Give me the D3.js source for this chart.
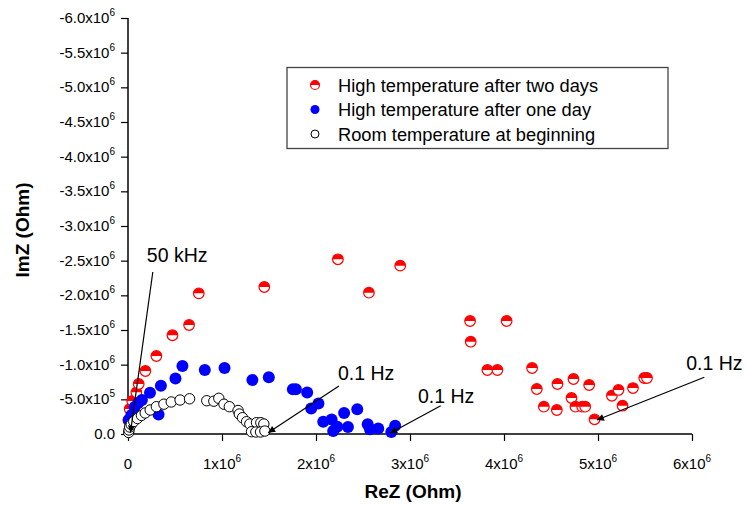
<!DOCTYPE html>
<html>
<head>
<meta charset="utf-8">
<script src="https://cdn.jsdelivr.net/npm/d3@7"></script>
<style>
  body { margin: 0; background: #fff; }
  svg text { font-family: "Liberation Sans", Arial, sans-serif; fill: #000; }
</style>
</head>
<body>
<svg id="chart" width="746" height="506"></svg>
<script>
// ---- data (ReZ in Ohm, ImZ in Ohm; ImZ negative) ----
const twoDaysRe = [0.005, 0.018, 0.045, 0.089, 0.114, 0.185, 0.302, 0.473, 0.650, 0.753, 1.450, 2.233, 2.563, 2.896,
  3.639, 4.028, 3.646, 3.823, 3.930, 4.299, 4.349, 4.424, 4.562, 4.569, 4.739, 4.718, 4.760, 4.832, 4.864, 4.906,
  4.963, 5.148, 5.218, 5.261, 5.372, 5.492, 5.521];
const twoDaysIm = [0.20, 0.36, 0.476, 0.601, 0.721, 0.909, 1.125, 1.424, 1.572, 2.029, 2.120, 2.520, 2.038, 2.428,
  1.630, 1.630, 1.331, 0.923, 0.923, 0.952, 0.649, 0.394, 0.346, 0.721, 0.793, 0.519, 0.394, 0.394, 0.394, 0.707,
  0.212, 0.552, 0.635, 0.408, 0.663, 0.808, 0.808];

const oneDayRe = [0.007, 0.036, 0.071, 0.109, 0.148, 0.234, 0.350, 0.325, 0.505, 0.579, 0.817, 1.027, 1.323, 1.498,
  1.754, 1.786, 1.906, 2.026, 1.949, 2.077, 2.166, 2.299, 2.439, 2.226, 2.183, 2.340, 2.550, 2.574, 2.662, 2.842, 2.801];
const oneDayIm = [0.202, 0.274, 0.389, 0.447, 0.490, 0.596, 0.695, 0.280, 0.801, 0.981, 0.923, 0.952, 0.779, 0.818,
  0.646, 0.646, 0.599, 0.440, 0.368, 0.177, 0.209, 0.303, 0.356, 0.105, 0.043, 0.101, 0.141, 0.068, 0.078, 0.120, 0.029];

const roomRe = [0.007, 0.011, 0.018, 0.034, 0.061, 0.100, 0.143, 0.183, 0.236, 0.302, 0.382, 0.460, 0.554, 0.655,
  0.838, 0.913, 0.966, 1.021, 1.078, 1.171, 1.184, 1.218, 1.261, 1.296, 1.367, 1.413, 1.445, 1.314, 1.360, 1.410, 1.456];
const roomIm = [0.022, 0.058, 0.101, 0.137, 0.180, 0.224, 0.267, 0.303, 0.346, 0.394, 0.430, 0.462, 0.490, 0.508,
  0.480, 0.473, 0.515, 0.430, 0.394, 0.339, 0.288, 0.235, 0.177, 0.144, 0.163, 0.163, 0.144, 0.033, 0.029, 0.029, 0.043];

const seriesNames = ["High temperature after two days", "High temperature after one day", "Room temperature at beginning"];

// tick labels
const xTickValues = [0, 1e6, 2e6, 3e6, 4e6, 5e6, 6e6];
const xTickMantissa = ["0", "1x10", "2x10", "3x10", "4x10", "5x10", "6x10"];
const xTickExponent = ["", "6", "6", "6", "6", "6", "6"];
const yTickValues = [0, -0.5e6, -1e6, -1.5e6, -2e6, -2.5e6, -3e6, -3.5e6, -4e6, -4.5e6, -5e6, -5.5e6, -6e6];
const yTickMantissa = ["0.0", "-5.0x10", "-1.0x10", "-1.5x10", "-2.0x10", "-2.5x10", "-3.0x10", "-3.5x10",
  "-4.0x10", "-4.5x10", "-5.0x10", "-5.5x10", "-6.0x10"];
const yTickExponent = ["", "5", "6", "6", "6", "6", "6", "6", "6", "6", "6", "6", "6"];

// annotations: label position and arrow from/to (data units, 1e6 Ohm)
const annoLabels = ["50 kHz", "0.1 Hz", "0.1 Hz", "0.1 Hz"];
const annoText = [[0.20, -2.48], [2.233, -0.779], [3.085, -0.447], [5.939, -0.923]];
const annoFrom = [[0.264, -2.337], [2.244, -0.692], [3.327, -0.408], [6.131, -0.818]];
const annoTo = [[0.026, -0.02], [1.491, -0.019], [2.787, -0.010], [4.988, -0.202]];

// ---- scales ----
const svg = d3.select("#chart");
const x = d3.scaleLinear().domain([0, 6e6]).range([128, 692]);
const y = d3.scaleLinear().domain([0, -6e6]).range([434, 18]);

// ---- axes ----
const xAxis = svg.append("g").attr("transform", "translate(0,434)");
xAxis.call(d3.axisBottom(x).tickValues(d3.range(0, 6.01e6, 0.5e6)).tickSize(4).tickFormat(""));
xAxis.call(d3.axisBottom(x).tickValues(xTickValues).tickSize(7).tickFormat(""));
xAxis.selectAll("path.domain").attr("d", "M128,0H692").attr("stroke-width", 1.5);
xAxis.selectAll("line").attr("stroke-width", 1.2);

const yAxis = svg.append("g").attr("transform", "translate(128,0)");
yAxis.call(d3.axisLeft(y).tickValues(d3.range(0, -6.01e6, -0.25e6)).tickSize(4).tickFormat(""));
yAxis.call(d3.axisLeft(y).tickValues(yTickValues).tickSize(7).tickFormat(""));
yAxis.selectAll("path.domain").attr("d", "M0,437V18").attr("stroke-width", 1.5);
yAxis.selectAll("line").attr("stroke-width", 1.2);

// tick labels with superscripts
const xl = svg.append("g").selectAll("text").data(xTickValues).join("text")
  .attr("x", d => x(d)).attr("y", 469).attr("text-anchor", "middle").attr("font-size", 15);
xl.append("tspan").text((d, i) => xTickMantissa[i]);
xl.append("tspan").attr("font-size", 10).attr("dy", -7).text((d, i) => xTickExponent[i]);

const yl = svg.append("g").selectAll("text").data(yTickValues).join("text")
  .attr("x", 115).attr("y", d => y(d) + 5).attr("text-anchor", "end").attr("font-size", 15);
yl.append("tspan").text((d, i) => yTickMantissa[i]);
yl.append("tspan").attr("font-size", 10).attr("dy", -7).text((d, i) => yTickExponent[i]);

// axis titles
svg.append("text").attr("x", 413).attr("y", 498).attr("text-anchor", "middle")
  .attr("font-size", 19).attr("font-weight", "bold").text("ReZ (Ohm)");
svg.append("text").attr("transform", "translate(29,230) rotate(-90)").attr("text-anchor", "middle")
  .attr("font-size", 19).attr("font-weight", "bold").text("ImZ (Ohm)");

// ---- markers ----
function halfMarker(g, r) {
  g.append("circle").attr("r", r).attr("fill", "#fff").attr("stroke", "#f00").attr("stroke-width", 1.2);
  g.append("path").attr("d", `M${-r},0A${r},${r} 0 0 1 ${r},0Z`).attr("fill", "#f00");
}

const plot = svg.append("g");
const redData = twoDaysRe.map((v, i) => [v * 1e6, -twoDaysIm[i] * 1e6]);
plot.append("g").selectAll("g").data(redData).join("g")
  .attr("transform", d => `translate(${x(d[0])},${y(d[1])})`)
  .each(function () { halfMarker(d3.select(this), 5.3); });

const blueData = oneDayRe.map((v, i) => [v * 1e6, -oneDayIm[i] * 1e6]);
plot.append("g").selectAll("circle").data(blueData).join("circle")
  .attr("cx", d => x(d[0])).attr("cy", d => y(d[1])).attr("r", 6).attr("fill", "#00f");

const roomData = roomRe.map((v, i) => [v * 1e6, -roomIm[i] * 1e6]);
plot.append("g").selectAll("circle").data(roomData).join("circle")
  .attr("cx", d => x(d[0])).attr("cy", d => y(d[1])).attr("r", 5.2)
  .attr("fill", "#fff").attr("stroke", "#000").attr("stroke-width", 1);

// ---- annotations ----
svg.append("defs").append("marker").attr("id", "arrow").attr("viewBox", "0 0 10 10")
  .attr("refX", 10).attr("refY", 5).attr("markerWidth", 10).attr("markerHeight", 7)
  .attr("markerUnits", "userSpaceOnUse").attr("orient", "auto")
  .append("path").attr("d", "M0,0L10,5L0,10Z").attr("fill", "#000");

const anno = svg.append("g");
anno.selectAll("line").data(annoLabels).join("line")
  .attr("x1", (d, i) => x(annoFrom[i][0] * 1e6)).attr("y1", (d, i) => y(annoFrom[i][1] * 1e6))
  .attr("x2", (d, i) => x(annoTo[i][0] * 1e6)).attr("y2", (d, i) => y(annoTo[i][1] * 1e6))
  .attr("stroke", "#000").attr("stroke-width", 1.2).attr("marker-end", "url(#arrow)");
anno.selectAll("text").data(annoLabels).join("text")
  .attr("x", (d, i) => x(annoText[i][0] * 1e6)).attr("y", (d, i) => y(annoText[i][1] * 1e6))
  .attr("font-size", 19.5).text(d => d);

// ---- legend ----
const legend = svg.append("g");
legend.append("rect").attr("x", 287).attr("y", 67.5).attr("width", 381).attr("height", 81)
  .attr("fill", "#fff").attr("stroke", "#444").attr("stroke-width", 1.3);
const rows = legend.selectAll("g").data(seriesNames).join("g")
  .attr("transform", (d, i) => `translate(315,${85 + i * 24.5})`);
rows.append("text").attr("x", 23).attr("y", 6.5).attr("font-size", 18.3).text(d => d);
halfMarker(rows.filter((d, i) => i === 0), 4.5);
rows.filter((d, i) => i === 1).append("circle").attr("r", 4.5).attr("fill", "#00f");
rows.filter((d, i) => i === 2).append("circle").attr("r", 4).attr("fill", "#fff")
  .attr("stroke", "#000").attr("stroke-width", 1);
</script>
</body>
</html>
